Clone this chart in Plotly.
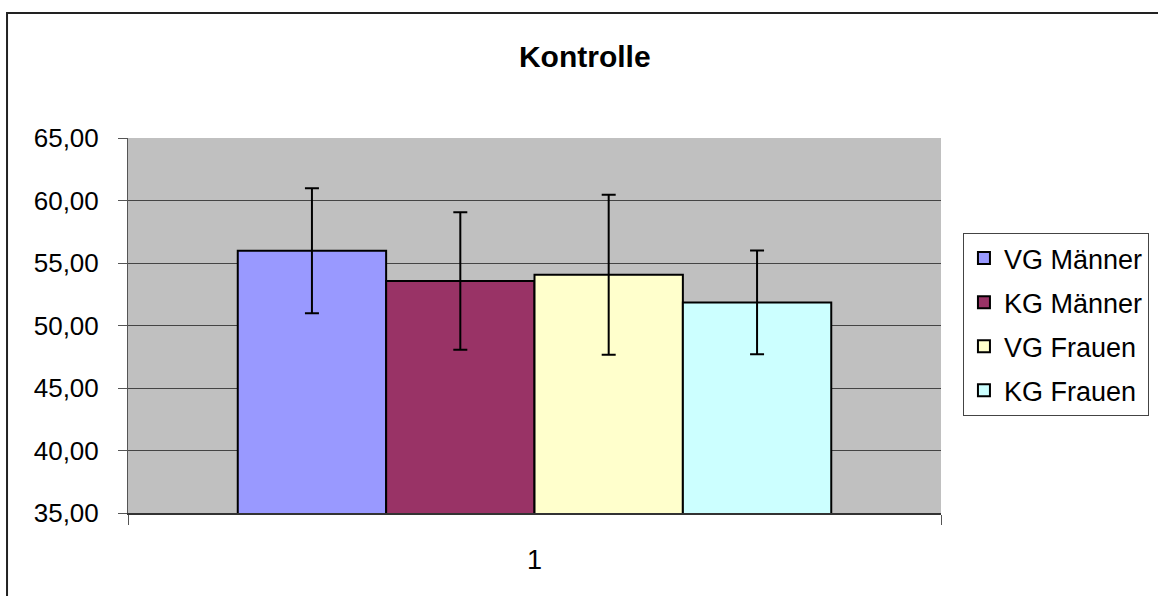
import plotly.graph_objects as go

categories = [1]
series_names = ["VG Männer", "KG Männer", "VG Frauen", "KG Frauen"]
series_values = [55.98, 53.56, 54.07, 51.85]
series_errors = [5.0, 5.5, 6.4, 4.15]
series_colors = ["#9999FF", "#993366", "#FFFFCC", "#CCFFFF"]
y_ticks = [35, 40, 45, 50, 55, 60, 65]

FONT = "Liberation Sans, Arial, sans-serif"

fig = go.Figure()
for i, (name, val, err, col) in enumerate(zip(series_names, series_values, series_errors, series_colors)):
    fig.add_trace(go.Bar(
        x=categories, y=[val], name=name,
        marker=dict(color=col, line=dict(color="black", width=2)),
        error_y=dict(type="data", array=[err], visible=True, color="black", thickness=2, width=7),
        legendgroup=f"g{i}",
    ))

fig.update_layout(
    width=1158, height=596,
    margin=dict(l=128, r=217, t=138, b=83, autoexpand=False),
    paper_bgcolor="white", plot_bgcolor="#C0C0C0",
    barmode="group", bargap=0.27, bargroupgap=0,
    separators=",.",
    font=dict(family=FONT, size=26, color="black"),
    title=dict(text="<b>Kontrolle</b>", x=0.505, xanchor="center", y=0.905, yanchor="middle",
               font=dict(family=FONT, size=30, color="black")),
    showlegend=True,
    legend=dict(x=1.027, xanchor="left", y=0.7467, yanchor="top",
                bgcolor="white", bordercolor="#444444", borderwidth=1,
                font=dict(family=FONT, size=27), tracegroupgap=6, itemwidth=30),
    xaxis=dict(type="linear", range=[0.5, 1.5], tickvals=categories, ticktext=[str(c) for c in categories],
               ticks="", showgrid=False, zeroline=False, showline=True, linecolor="#333333", linewidth=2,
               ticklabelstandoff=22, automargin=False,
               minor=dict(tickvals=[0.5, 1.5], ticks="outside", ticklen=10, tickcolor="#555555", tickwidth=1, showgrid=False),
               tickfont=dict(size=27)),
    yaxis=dict(range=[35, 65], tickvals=y_ticks, tickformat=".2f", ticks="outside", ticklen=9,
               tickcolor="#555555", showgrid=True, gridcolor="#444444", gridwidth=1, zeroline=False,
               showline=True, linecolor="#555555", linewidth=1, tickfont=dict(size=26),
               ticklabelstandoff=14, automargin=False),
    shapes=[dict(type="rect", xref="paper", yref="paper", x0=-0.1488, x1=1.4, y0=-0.4, y1=1.3333,
                 line=dict(color="#222222", width=2), fillcolor="rgba(0,0,0,0)", layer="above")],
)

fig.write_html("out.html", config={"displayModeBar": False},
               post_script="document.body.style.margin='0';")
